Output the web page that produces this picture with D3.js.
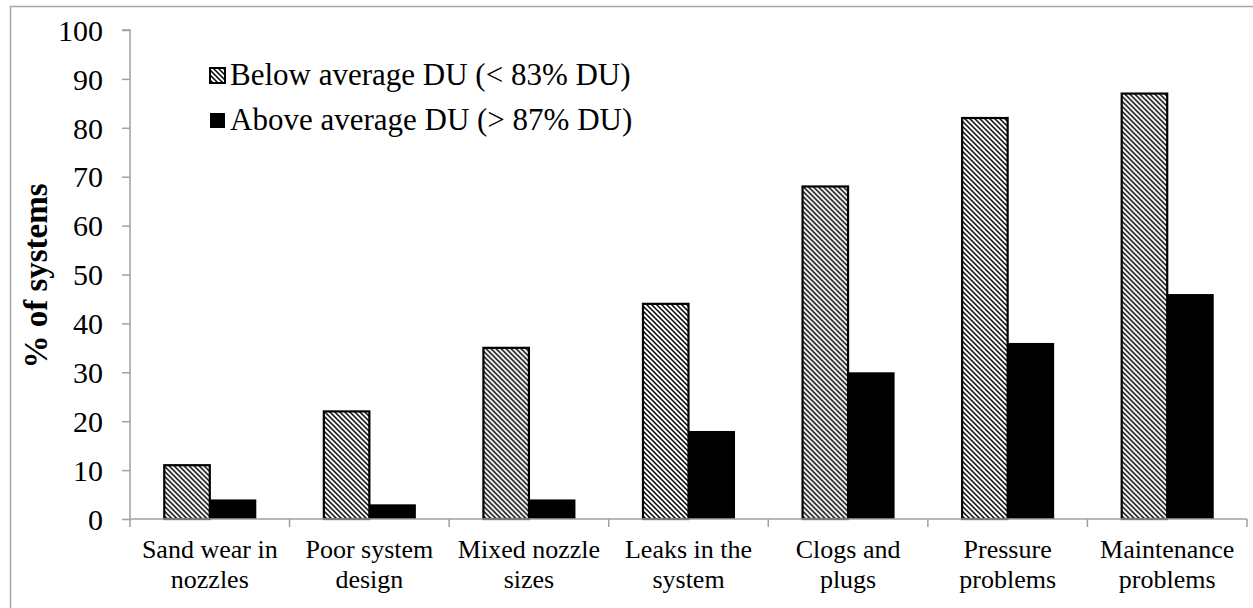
<!DOCTYPE html>
<html><head><meta charset="utf-8">
<script src="https://cdn.jsdelivr.net/npm/d3@7/dist/d3.min.js"></script>
<style>body{margin:0;background:#fff}svg{display:block}text{font-family:"Liberation Serif","Times New Roman",serif;fill:#000}</style>
</head><body>
<script>
const categories = [["Sand wear in","nozzles"],["Poor system","design"],["Mixed nozzle","sizes"],["Leaks in the","system"],["Clogs and","plugs"],["Pressure","problems"],["Maintenance","problems"]];
const belowAvg = [11, 22, 35, 44, 68, 82, 87];
const aboveAvg = [4, 3, 4, 18, 30, 36, 46];
const seriesNames = ["Below average DU (< 83% DU)", "Above average DU (> 87% DU)"];
const yTicks = [0,10,20,30,40,50,60,70,80,90,100];

(function(){
const W = 1253, H = 608;
const FONT = '"Liberation Serif","Times New Roman",serif';
const svg = d3.select("body").append("svg").attr("width", W).attr("height", H);
const defs = svg.append("defs");
const pat = defs.append("pattern").attr("id","hatch").attr("patternUnits","userSpaceOnUse")
  .attr("width",5).attr("height",5);
pat.append("rect").attr("width",5).attr("height",5).attr("fill","#fff");
pat.append("path").attr("d","M-1,-1 L6,6 M-1,4 L1,6 M4,-1 L6,1").attr("stroke","#000").attr("stroke-width",1.5);

// outer border
svg.append("rect").attr("x",10.5).attr("y",6.5).attr("width",W+20).attr("height",H+20)
  .attr("fill","none").attr("stroke","#a6a6a6").attr("stroke-width",1.5);

const mLeft = 130, mRight = 1247, mTop = 30, mBottom = 519;
const y = d3.scaleLinear().domain([0,100]).range([mBottom, mTop]);
const keys = categories.map((c,i)=>i);
const x0 = d3.scaleBand().domain(keys).range([mLeft, mRight]).paddingInner(0.417).paddingOuter(0.2085);
const x1 = d3.scaleBand().domain([0,1]).range([0, x0.bandwidth()]);

// y axis
const yAxis = d3.axisLeft(y).tickValues(yTicks).tickSize(8).tickPadding(19).tickFormat(d3.format("d"));
const gy = svg.append("g").attr("transform",`translate(${mLeft},0)`).call(yAxis);
gy.attr("font-family", FONT);
gy.select(".domain").attr("stroke","#a0a0a0").attr("stroke-width",1.5).attr("d",`M-8,${mTop}H0V${mBottom}`);
gy.selectAll(".tick line").attr("stroke","#a0a0a0").attr("stroke-width",1.5);
gy.selectAll(".tick text").style("font-size","30px").attr("dy","0.34em");

// bars
const data = keys.map(i => ({i, vals:[belowAvg[i], aboveAvg[i]]}));
const groups = svg.append("g").selectAll("g").data(data).join("g")
  .attr("transform", d => `translate(${x0(d.i)},0)`);
groups.selectAll("rect").data(d => d.vals.map((v,s)=>({v,s}))).join("rect")
  .attr("x", d => x1(d.s) + (d.s===0?1:0))
  .attr("width", d => x1.bandwidth() - (d.s===0?1:0))
  .attr("y", d => y(d.v))
  .attr("height", d => y(0) - y(d.v))
  .attr("fill", d => d.s===0 ? "url(#hatch)" : "#000")
  .attr("stroke", d => d.s===0 ? "#000" : "none")
  .attr("stroke-width", 2.2);

// x axis
const gx = svg.append("g");
gx.append("line").attr("x1",mLeft).attr("x2",mRight).attr("y1",mBottom).attr("y2",mBottom)
  .attr("stroke","#a0a0a0").attr("stroke-width",1.5);
const bounds = d3.range(categories.length+1).map(i => mLeft + i*x0.step());
gx.selectAll("line.tk").data(bounds).join("line").attr("class","tk")
  .attr("x1",d=>d).attr("x2",d=>d).attr("y1",mBottom).attr("y2",mBottom+8)
  .attr("stroke","#a0a0a0").attr("stroke-width",1.5);
gx.selectAll("text").data(keys).join("text")
  .attr("text-anchor","middle").style("font-size","26px")
  .attr("transform", i => `translate(${x0(i)+x0.bandwidth()/2},558)`)
  .each(function(i){
    const t = d3.select(this);
    categories[i].forEach((ln,k)=>t.append("tspan").attr("x",0).attr("y",k*30).text(ln));
  });

// y title
svg.append("text").attr("transform","translate(47,276) rotate(-90)")
  .attr("text-anchor","middle").style("font-size","33px").style("font-weight","bold").text("% of systems");

// legend
const lg = svg.append("g");
seriesNames.forEach((name,k)=>{
  const base = 85 + k*45;
  lg.append("rect").attr("x",210).attr("y",base-17).attr("width",15).attr("height",15)
    .attr("fill", k===0 ? "url(#hatch)" : "#000").attr("stroke","#000").attr("stroke-width",k===0?2:0);
  lg.append("text").attr("x",230).attr("y",base).style("font-size","31px").text(name);
});
})();
</script>
</body></html>
